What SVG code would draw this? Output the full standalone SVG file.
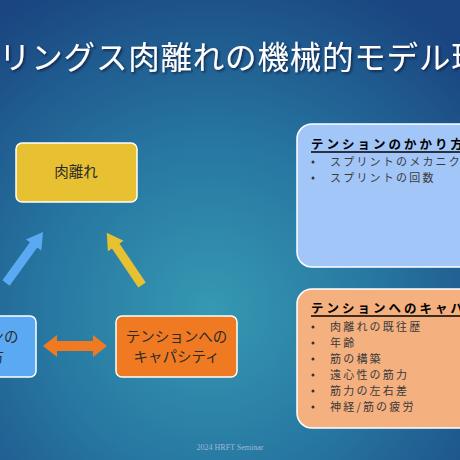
<svg xmlns="http://www.w3.org/2000/svg" width="460" height="460" viewBox="0 0 460 460">
<defs>
<radialGradient id="bg" cx="210" cy="310" r="360" gradientUnits="userSpaceOnUse">
<stop offset="0" stop-color="#3699b2"/>
<stop offset="0.45" stop-color="#2778a2"/>
<stop offset="1" stop-color="#1a4580"/>
</radialGradient>
<filter id="sh" x="-5%" y="-20%" width="110%" height="140%">
<feDropShadow dx="1.5" dy="1.5" stdDeviation="1" flood-color="#0a1e3a" flood-opacity="0.8"/>
</filter>
<style>
.jp{font-family:"Noto Sans CJK JP","Noto Sans",sans-serif;}
.box{stroke:#ffffff;stroke-width:1.5;}
.lbl{font-size:14.5px;fill:#2a2a2a;text-anchor:middle;}
.head{font-size:12.5px;font-weight:bold;fill:#000;letter-spacing:3px;}
.item{font-size:11px;fill:#3a3a3a;letter-spacing:2.2px;}
.dot{fill:#333;}
</style>
</defs>
<rect width="460" height="460" fill="url(#bg)"/>
<text x="-1" y="69" class="jp" font-size="31.5" fill="#ffffff" filter="url(#sh)" letter-spacing="0.8">リングス肉離れの機械的モデル理</text>

<g id="connectors">
<polygon points="0,-4.5 47,-4.5 47,-9.5 63,0 47,9.5 47,4.5 0,4.5" fill="#5aa9f2" transform="translate(6,283) rotate(-54)"/>
<polygon points="0,-4.5 47,-4.5 47,-9.5 63,0 47,9.5 47,4.5 0,4.5" fill="#e8c132" transform="translate(142,285) rotate(-124)"/>
<polygon points="43,346 57,335 57,341 93,341 93,335 107,346 93,357 93,351 57,351 57,357" fill="#f07a22"/>
</g>

<g id="node-nikubanare">
<rect x="16" y="143" width="121" height="59" rx="6" fill="#e8c132" class="box"/>
<text x="76" y="177" class="jp lbl">肉離れ</text>
</g>

<g id="node-tension-kakarikata">
<rect x="-86" y="316" width="122" height="61" rx="6" fill="#5aa9f2" class="box"/>
<text x="-25" y="342" class="jp lbl">テンションの</text>
<text x="-25" y="362" class="jp lbl">かかり方</text>
</g>

<g id="node-capacity">
<rect x="116" y="316" width="121" height="61" rx="6" fill="#f07a22" class="box"/>
<text x="176.5" y="342" class="jp lbl">テンションへの</text>
<text x="176.5" y="362" class="jp lbl">キャパシティ</text>
</g>

<g id="panel-kakarikata">
<rect x="297" y="124" width="180" height="143" rx="15" fill="#a2c6f8" class="box"/>
<text x="311" y="149" class="jp head">テンションのかかり方</text>
<line x1="311" y1="152" x2="460" y2="152" stroke="#000" stroke-width="1.3"/>
<circle cx="313" cy="162" r="1.5" class="dot"/>
<text x="330" y="166" class="jp item">スプリントのメカニクス</text>
<circle cx="313" cy="178" r="1.5" class="dot"/>
<text x="330" y="182" class="jp item">スプリントの回数</text>
</g>

<g id="panel-capacity">
<rect x="297" y="289" width="180" height="139" rx="15" fill="#f5b080" class="box"/>
<text x="311" y="313" class="jp head">テンションへのキャパシティ</text>
<line x1="311" y1="316" x2="460" y2="316" stroke="#000" stroke-width="1.3"/>
<circle cx="313" cy="327" r="1.5" class="dot"/>
<text x="330" y="331" class="jp item">肉離れの既往歴</text>
<circle cx="313" cy="343" r="1.5" class="dot"/>
<text x="330" y="347" class="jp item">年齢</text>
<circle cx="313" cy="359" r="1.5" class="dot"/>
<text x="330" y="363" class="jp item">筋の構築</text>
<circle cx="313" cy="375" r="1.5" class="dot"/>
<text x="330" y="379" class="jp item">遠心性の筋力</text>
<circle cx="313" cy="391" r="1.5" class="dot"/>
<text x="330" y="395" class="jp item">筋力の左右差</text>
<circle cx="313" cy="407" r="1.5" class="dot"/>
<text x="330" y="411" class="jp item">神経/筋の疲労</text>
</g>

<text x="230" y="450" font-family="Liberation Serif, serif" font-size="8" fill="#9fb8d4" text-anchor="middle">2024 HRFT Seminar</text>
</svg>
